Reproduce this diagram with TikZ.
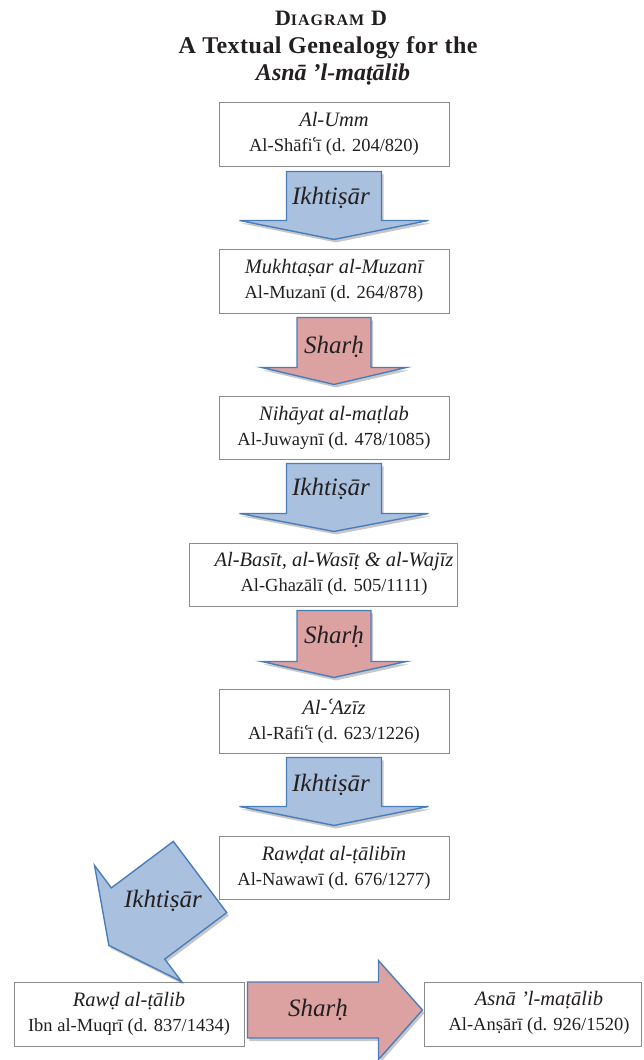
\documentclass[tikz,border=0pt]{standalone}
\usepackage{fontspec}
\setmainfont{Liberation Serif}
\newfontfamily\djv{DejaVu Serif}
\usetikzlibrary{shadows,calc}
\definecolor{arrowline}{HTML}{4A7EBB}
\definecolor{bluefill}{HTML}{A9C0DF}
\definecolor{redfill}{HTML}{DCA2A2}
\definecolor{boxline}{HTML}{8C8C8C}
\definecolor{ink}{HTML}{231F20}
\newcommand{\ayn}{{\djv\kern-0.6pt ʿ\kern-1.8pt}}
\newcommand{\work}[1]{{\fontsize{20.5}{25}\selectfont\itshape #1}}
% #1 style, #2 origin (back centre), #3 angle, #4 length to head base, #5 total length, #6 shaft half width, #7 head half width
\newcommand{\blockarrow}[7]{%
  \path[#1, shift={#2}, rotate=#3] (0,-#6) -- (#4,-#6) -- (#4,-#7) -- (#5,0) -- (#4,#7) -- (#4,#6) -- (0,#6) -- cycle;}
\tikzset{
  box/.style={draw=boxline, line width=0.9pt, fill=white, minimum width=230pt, minimum height=64pt,
    inner sep=0pt, align=center, font=\fontsize{18.5}{25}\selectfont, text=ink},
  boxtext/.style={align=center, font=\fontsize{18.5}{25}\selectfont, text=ink, inner sep=0pt},
  lbl/.style={font=\fontsize{25}{28}\selectfont\itshape, text=ink, inner sep=0pt},
  titletext/.style={anchor=base, text=ink, inner sep=0pt, font=\fontsize{24}{27}\selectfont\bfseries},
  arrowbase/.style={draw=arrowline, line width=1.4pt, line join=miter,
    drop shadow={opacity=0.22, shadow xshift=2pt, shadow yshift=-3pt, fill=black}},
  bluearrow/.style={arrowbase, fill=bluefill},
  redarrow/.style={arrowbase, fill=redfill}
}
\begin{document}
\begin{tikzpicture}[x=1pt, y=-1pt]
\useasboundingbox[fill=white] (0,0) rectangle (643,1060);

% title
\node[titletext] (ti1) at (331,25) {\addfontfeature{LetterSpace=6}\fontsize{22}{22}\selectfont D\fontsize{16}{16}\selectfont IAGRAM\fontsize{22}{22}\selectfont{} D};
\node[titletext] (ti2) at (328,53) {\addfontfeature{LetterSpace=2}A Textual Genealogy for the};
\node[titletext] (ti3) at (333,80) {\itshape Asnā ’l-maṭālib};

% boxes
\node[box] (b1) at (334,134) {\work{Al-Umm}\\Al-Shāfi\ayn ī (d. 204/820)};
\node[box] (b2) at (334,281) {\work{Mukhtaṣar al-Muzanī}\\Al-Muzanī (d. 264/878)};
\node[box, minimum height=63pt] (b3) at (334,427.5) {\work{Nihāyat al-maṭlab}\\Al-Juwaynī (d. 478/1085)};
\node[box, minimum width=268pt, minimum height=63pt] (b4) at (323,574.5) {};
\node[boxtext] (t4) at (334,574) {\work{Al-Basīt, al-Wasīṭ \& al-Wajīz}\\Al-Ghazālī (d. 505/1111)};
\node[box] (b5) at (334,721) {\work{Al-\ayn Azīz}\\Al-Rāfi\ayn ī (d. 623/1226)};
\node[box, minimum height=63pt] (b6) at (334,867.5) {\work{Rawḍat al-ṭālibīn}\\Al-Nawawī (d. 676/1277)};
\node[box] (b7) at (129,1014) {\work{Rawḍ al-ṭālib}\\Ibn al-Muqrī (d. 837/1434)};
\node[box, minimum width=217pt] (b8) at (532.5,1014) {};
\node[boxtext] (t8) at (539,1013) {\work{Asnā ’l-maṭālib}\\Al-Anṣārī (d. 926/1520)};

% block arrows (connectors)
\blockarrow{bluearrow}{($(b1.south)+(0,5)$)}{-90}{49}{68}{47.5}{94.5}
\blockarrow{redarrow}{($(b2.south)+(0,4)$)}{-90}{50}{67}{37}{72.5}
\blockarrow{bluearrow}{($(b3.south)+(0,4)$)}{-90}{50}{68}{47.5}{94.5}
\blockarrow{redarrow}{($(b4.south -| t4)+(0,4)$)}{-90}{51}{67}{37}{72.5}
\blockarrow{bluearrow}{($(b5.south)+(0,4)$)}{-90}{49}{68}{47.5}{94.5}
\blockarrow{bluearrow}{($(b6.west)+(-18.5,9.5)$)}{-143.13}{77.5}{114}{44.5}{72.5}
\blockarrow{redarrow}{($(b7.east)+(3,-4)$)}{0}{131}{175}{28}{49.5}

% arrow labels
\node[lbl] (l1) at (331,198) {Ikhtiṣār};
\node[lbl] (l2) at (334,347) {Sharḥ};
\node[lbl] (l3) at (331,489) {Ikhtiṣār};
\node[lbl] (l4) at (334,637) {Sharḥ};
\node[lbl] (l5) at (331,785) {Ikhtiṣār};
\node[lbl] (l6) at (163,901) {Ikhtiṣār};
\node[lbl] (l7) at (318,1010) {Sharḥ};
\end{tikzpicture}
\end{document}
